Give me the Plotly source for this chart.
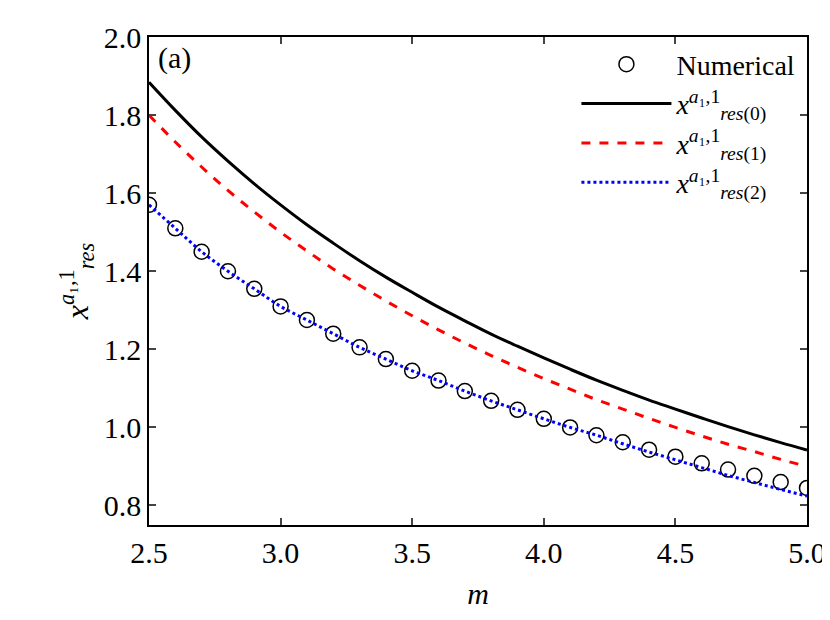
import plotly.graph_objects as go

m = [2.5, 2.6, 2.7, 2.8, 2.9, 3.0, 3.1, 3.2, 3.3, 3.4, 3.5, 3.6, 3.7,
     3.8, 3.9, 4.0, 4.1, 4.2, 4.3, 4.4, 4.5, 4.6, 4.7, 4.8, 4.9, 5.0]
numerical = [1.57, 1.51, 1.45, 1.40, 1.355, 1.31, 1.275, 1.24, 1.205, 1.175, 1.145, 1.12, 1.093,
             1.068, 1.045, 1.022, 1.0, 0.98, 0.962, 0.943, 0.925, 0.908, 0.892, 0.876, 0.86, 0.845]
res0 = [1.884, 1.812, 1.744, 1.682, 1.624, 1.570, 1.519, 1.472, 1.427, 1.385, 1.346, 1.308, 1.273,
        1.239, 1.208, 1.178, 1.149, 1.121, 1.095, 1.070, 1.047, 1.024, 1.002, 0.981, 0.961, 0.942]
res1 = [1.800, 1.731, 1.667, 1.607, 1.552, 1.500, 1.452, 1.406, 1.364, 1.324, 1.286, 1.250, 1.216,
        1.184, 1.154, 1.125, 1.098, 1.071, 1.047, 1.023, 1.000, 0.978, 0.957, 0.938, 0.918, 0.900]
res2 = [1.57, 1.51, 1.45, 1.40, 1.355, 1.31, 1.275, 1.24, 1.205, 1.175, 1.145, 1.12, 1.093,
        1.068, 1.045, 1.022, 1.0, 0.98, 0.958, 0.937, 0.917, 0.897, 0.877, 0.859, 0.841, 0.824]

font = "Times New Roman, Liberation Serif, DejaVu Serif, serif"
fig = go.Figure()
fig.add_trace(go.Scatter(x=m, y=numerical, mode='markers', name='Numerical',
                         marker=dict(symbol='circle-open', size=15, color='black', line=dict(width=1.5))))
fig.add_trace(go.Scatter(x=m, y=res0, mode='lines', line=dict(color='black', width=3, shape='spline'),
                         name='<i>x</i><sup><i>a</i>₁,1</sup><sub><i>res</i>(0)</sub>'))
fig.add_trace(go.Scatter(x=m, y=res1, mode='lines', line=dict(color='red', width=3, dash='dash', shape='spline'),
                         name='<i>x</i><sup><i>a</i>₁,1</sup><sub><i>res</i>(1)</sub>'))
fig.add_trace(go.Scatter(x=m, y=res2, mode='lines', line=dict(color='blue', width=3, dash='dot', shape='spline'),
                         name='<i>x</i><sup><i>a</i>₁,1</sup><sub><i>res</i>(2)</sub>'))

axis = dict(showline=True, linecolor='black', linewidth=1.5, mirror='ticks', ticks='inside',
            ticklen=7, tickwidth=1.5, showgrid=False, zeroline=False,
            tickfont=dict(family=font, size=30, color='black'))
fig.update_xaxes(axis, range=[2.5, 5.0], dtick=0.5, tickformat='.1f',
                 title=dict(text='<i>m</i>', font=dict(family=font, size=30, color='black')))
fig.update_yaxes(axis, range=[0.75, 2.0], dtick=0.2, tickformat='.1f',
                 title=dict(text='<i>x</i><sup><i>a</i>₁,1</sup><sub><i>res</i></sub>', standoff=6,
                            font=dict(family=font, size=32, color='black')))
fig.add_annotation(x=0.01, y=0.995, xref='paper', yref='paper', xanchor='left', yanchor='top',
                   text='(a)', showarrow=False, font=dict(family=font, size=30, color='black'))
fig.update_layout(width=830, height=620, plot_bgcolor='white', paper_bgcolor='white',
                  margin=dict(l=141, r=20, t=26, b=103),
                  legend=dict(x=0.99, y=0.995, xanchor='right', yanchor='top', bgcolor='rgba(0,0,0,0)',
                              font=dict(family=font, size=28, color='black'), itemwidth=90,
                              tracegroupgap=10))
fig.write_html("out.html")
